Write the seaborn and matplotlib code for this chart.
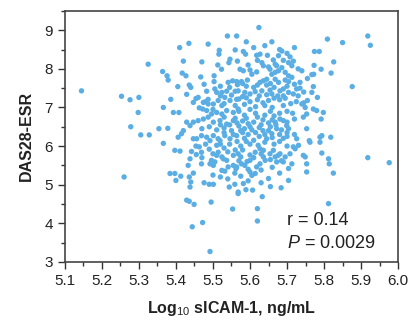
import matplotlib
matplotlib.use('Agg')
import matplotlib.pyplot as plt
import seaborn as sns
import pandas as pd
from matplotlib.ticker import MultipleLocator

# values (log10 sICAM-1 vs DAS28-ESR)
log_sicam = [
    5.145, 5.26, 5.253, 5.276, 5.30, 5.298, 5.278, 5.305, 5.328, 5.325,
    5.366, 5.354, 5.378, 5.366, 5.386, 5.393, 5.408, 5.364, 5.376, 5.379,
    5.41, 5.435, 5.487, 5.539, 5.564, 5.517, 5.516, 5.56, 5.42, 5.47,
    5.513, 5.523, 5.546, 5.543, 5.566, 5.417, 5.427, 5.467, 5.503, 5.503,
    5.405, 5.436, 5.44, 5.476, 5.541, 5.553, 5.564, 5.566, 5.483, 5.505,
    5.51, 5.524, 5.537, 5.56, 5.429, 5.454, 5.463, 5.472, 5.48, 5.487,
    5.447, 5.46, 5.474, 5.487, 5.501, 5.514, 5.524, 5.532, 5.546, 5.564,
    5.483, 5.496, 5.51, 5.524, 5.537, 5.555, 5.568,
    5.415, 5.42, 5.429, 5.438, 5.447,
    5.447, 5.456, 5.469, 5.483, 5.492, 5.501, 5.514, 5.532, 5.546, 5.564,
    5.46, 5.474, 5.487, 5.501, 5.519, 5.537, 5.555,
    5.47, 5.49, 5.51, 5.53, 5.55, 5.57,
    5.454, 5.463, 5.469, 5.406,
    5.397, 5.411, 5.384, 5.397, 5.40, 5.413, 5.433, 5.438, 5.442, 5.447,
    5.436, 5.44, 5.438, 5.429, 5.436, 5.449, 5.444, 5.472, 5.492, 5.495,
    5.476, 5.49, 5.501, 5.469, 5.544, 5.559, 5.553, 5.568,
    5.496, 5.505, 5.492, 5.501, 5.524, 5.532, 5.541, 5.555, 5.562, 5.528,
    5.514, 5.51, 5.519,
    5.51, 5.524, 5.537, 5.555, 5.568,
    5.48, 5.49, 5.47, 5.455, 5.50, 5.53, 5.545, 5.56, 5.575, 5.54,
    5.918, 5.976, 5.825, 5.814, 5.812, 5.794, 5.812, 5.753, 5.704, 5.684,
    5.65, 5.62, 5.62, 5.633, 5.607, 5.589, 5.582, 5.568, 5.595, 5.60,
    5.605, 5.614, 5.559, 5.704, 5.713, 5.69, 5.672, 5.668, 5.753, 5.749,
    5.744, 5.722, 5.731, 5.762, 5.76, 5.789, 5.794, 5.681, 5.663, 5.654,
    5.676, 5.636, 5.641, 5.627, 5.618, 5.60, 5.586, 5.577, 5.564,
    5.744, 5.753, 5.753, 5.771, 5.78, 5.749, 5.74, 5.789, 5.726, 5.717,
    5.708, 5.695,
    5.704, 5.699, 5.681, 5.69, 5.668, 5.672, 5.659, 5.65, 5.645,
    5.622, 5.627, 5.614, 5.636,
    5.60, 5.575, 5.592, 5.58, 5.60,
    5.57, 5.59, 5.60, 5.62, 5.635, 5.65, 5.665, 5.68, 5.695, 5.71,
    5.725, 5.745, 5.755,
    5.57, 5.585, 5.60, 5.615, 5.62, 5.64, 5.655, 5.665, 5.68, 5.70, 5.715,
    5.58, 5.595, 5.61, 5.63, 5.65, 5.66,
    5.575, 5.585, 5.595, 5.605, 5.615, 5.625, 5.61, 5.59, 5.635, 5.68,
    5.69, 5.70,
    5.624, 5.659, 5.809, 5.85, 5.918, 5.925, 5.774, 5.787, 5.826, 5.876,
    5.792, 5.819, 5.773, 5.772, 5.767, 5.755, 5.771, 5.767, 5.782, 5.798,
    5.792, 5.818,
    5.68, 5.686, 5.708, 5.704, 5.713, 5.717,
    5.582, 5.588, 5.618, 5.627, 5.647, 5.677, 5.632, 5.636, 5.663, 5.668,
    5.672, 5.573, 5.582, 5.60, 5.605, 5.618, 5.654, 5.659, 5.668, 5.677,
    5.686, 5.695, 5.704, 5.713, 5.577, 5.593, 5.627, 5.636, 5.645, 5.668,
    5.677, 5.695, 5.704, 5.568, 5.586, 5.60, 5.614, 5.632, 5.654, 5.659,
    5.681, 5.69, 5.704, 5.717, 5.726,
    5.59, 5.61, 5.645, 5.665, 5.70, 5.72, 5.735,
    5.74, 5.735, 5.745, 5.73,
    5.52, 5.545, 5.58, 5.62, 5.655, 5.69,
    5.52, 5.55, 5.58, 5.625, 5.645, 5.675,
    5.53, 5.56, 5.585, 5.615, 5.64, 5.66, 5.69,
    5.50, 5.53, 5.56, 5.59, 5.635, 5.67, 5.70, 5.72,
    5.52, 5.545, 5.565, 5.60, 5.625, 5.655, 5.685,
    5.53, 5.555, 5.58, 5.64, 5.66, 5.70, 5.72,
    5.52, 5.565, 5.585, 5.64, 5.665, 5.68, 5.70,
    5.57, 5.61, 5.63, 5.655, 5.685, 5.595, 5.63, 5.66, 5.68,
    5.52, 5.54, 5.575, 5.50, 5.63, 5.655,
    5.595, 5.62, 5.65, 5.69, 5.73, 5.61, 5.64, 5.59, 5.70, 5.72,
]

das28_esr = [
    7.43, 5.20, 7.29, 7.20, 7.26, 6.87, 6.50, 6.29, 6.29, 8.12,
    6.07, 6.45, 6.46, 7.00, 7.21, 6.87, 6.87, 7.93, 7.82, 7.71,
    8.55, 8.66, 8.64, 8.85, 8.85, 8.48, 8.38, 8.49, 8.20, 8.18,
    8.10, 7.99, 8.25, 8.16, 8.20, 7.89, 7.82, 7.79, 7.82, 7.67,
    7.54, 7.58, 7.52, 7.60, 7.65, 7.69, 7.67, 7.59, 7.42, 7.48,
    7.39, 7.39, 7.42, 7.42, 7.34, 7.23, 6.99, 6.96, 7.15, 7.09,
    7.13, 7.26, 7.13, 7.21, 7.09, 7.18, 7.05, 7.26, 7.18, 7.21,
    6.92, 6.83, 6.87, 6.83, 6.92, 6.87, 6.96,
    6.32, 6.40, 6.62, 6.53, 6.62,
    6.19, 6.19, 6.27, 6.23, 6.14, 6.27, 6.19, 6.27, 6.19, 6.27,
    6.66, 6.70, 6.75, 6.62, 6.66, 6.57, 6.66,
    6.45, 6.50, 6.42, 6.47, 6.40, 6.52,
    6.00, 5.98, 5.84, 6.23,
    5.89, 5.87, 5.29, 5.29, 5.11, 5.22, 5.50, 5.67, 5.86, 5.30,
    5.20, 5.07, 4.94, 4.60, 4.57, 4.49, 3.91, 4.02, 3.27, 4.55,
    5.05, 5.01, 5.01, 5.54, 4.94, 5.01, 4.37, 4.77,
    5.63, 5.59, 5.54, 5.50, 5.37, 5.35, 5.46, 5.50, 5.41, 5.67,
    5.84, 6.02, 6.14,
    5.76, 5.72, 5.63, 5.76, 5.80,
    6.05, 5.92, 5.70, 5.78, 5.80, 5.95, 6.05, 5.90, 6.00, 5.85,
    5.70, 5.57, 5.30, 5.54, 5.67, 5.82, 4.51, 5.33, 5.11, 4.92,
    5.16, 4.38, 4.06, 4.69, 4.86, 4.87, 5.03, 4.81, 5.10, 5.33,
    5.24, 5.29, 5.30, 5.42, 5.54, 5.59, 5.59, 5.72, 5.54, 5.72,
    5.76, 5.93, 6.02, 6.10, 6.14, 6.23, 6.27, 5.80, 5.89, 5.80,
    5.76, 5.72, 5.63, 5.54, 5.46, 5.63, 5.50, 5.54, 5.46,
    6.75, 6.83, 6.45, 6.96, 6.92, 7.00, 7.09, 6.10, 6.19, 5.98,
    5.80, 5.72,
    6.45, 6.53, 6.70, 6.66, 6.62, 6.45, 6.32, 6.40, 6.19,
    6.02, 5.93, 5.84, 5.89,
    5.77, 5.72, 5.60, 5.90, 6.05,
    7.22, 7.25, 7.15, 7.20, 7.12, 7.18, 7.24, 7.20, 7.24, 7.10,
    7.15, 7.12, 7.18,
    6.90, 6.80, 6.95, 6.85, 6.75, 6.80, 6.90, 6.78, 6.85, 6.90, 6.85,
    6.65, 6.58, 6.62, 6.55, 6.60, 6.68,
    6.40, 6.45, 6.30, 6.42, 6.35, 6.25, 6.15, 6.12, 6.40, 6.30,
    6.20, 6.35,
    9.07, 8.70, 8.77, 8.68, 8.85, 8.61, 8.45, 8.45, 8.18, 7.54,
    7.99, 7.89, 8.09, 7.86, 7.85, 7.75, 7.54, 7.39, 7.26, 6.87,
    6.70, 6.23,
    8.50, 8.46, 8.31, 8.16, 8.08, 8.20,
    8.45, 8.38, 8.35, 8.38, 8.35, 8.34, 8.16, 8.08, 8.23, 8.12,
    8.08, 7.99, 7.95, 7.97, 7.86, 7.92, 7.99, 7.86, 7.91, 7.95,
    8.03, 7.91, 7.82, 7.78, 7.67, 7.71, 7.65, 7.69, 7.73, 7.73,
    7.65, 7.71, 7.67, 7.43, 7.39, 7.35, 7.41, 7.43, 7.45, 7.35,
    7.43, 7.30, 7.39, 7.35, 7.48,
    7.55, 7.52, 7.58, 7.52, 7.55, 7.60, 7.50,
    7.95, 7.65, 7.40, 7.30,
    7.55, 7.52, 7.62, 7.58, 7.62, 7.48,
    7.30, 7.32, 7.28, 7.30, 7.33, 7.30,
    7.10, 7.05, 7.08, 7.02, 7.05, 7.00, 7.05,
    6.95, 6.75, 6.72, 6.72, 6.68, 6.55, 6.62, 6.70,
    6.55, 6.55, 6.60, 6.50, 6.48, 6.50, 6.42,
    6.35, 6.30, 6.35, 6.30, 6.22, 6.25, 6.30,
    6.05, 6.12, 6.20, 6.10, 6.05, 6.12, 6.00,
    5.62, 5.70, 5.80, 5.65, 5.62, 5.40, 5.38, 5.45, 5.30,
    5.20, 5.15, 5.22, 5.25, 5.05, 4.95,
    8.10, 8.22, 8.05, 8.22, 8.00, 8.55, 8.60, 8.70, 8.40, 8.55,
]

x_ticks = [5.1, 5.2, 5.3, 5.4, 5.5, 5.6, 5.7, 5.8, 5.9, 6.0]
y_ticks = [3, 4, 5, 6, 7, 8, 9]
r_text = 'r = 0.14'
p_text = '$\\it{P}$ = 0.0029'

df = pd.DataFrame({'sicam': log_sicam, 'das': das28_esr})

sns.set_style('white')
plt.rcParams['font.family'] = ['Liberation Sans', 'DejaVu Sans']
plt.rcParams['mathtext.fontset'] = 'custom'
plt.rcParams['mathtext.rm'] = 'Liberation Sans'
plt.rcParams['mathtext.it'] = 'Liberation Sans:italic'
plt.rcParams['mathtext.bf'] = 'Liberation Sans:bold'

fig = plt.figure(figsize=(4.13, 3.21), dpi=100)
ax = fig.add_axes([0.157, 0.184, 0.807, 0.782])

sns.scatterplot(x='sicam', y='das', data=df, ax=ax, color='#5aaee3',
                s=15, edgecolor='none', linewidth=0)

ax.set_xlim(5.1, 6.0)
ax.set_ylim(3, 9.5)
ax.set_xticks(x_ticks)
ax.set_yticks(y_ticks)
ax.set_xticklabels([f'{t:.1f}' for t in x_ticks])
ax.xaxis.set_minor_locator(MultipleLocator(0.05))
ax.yaxis.set_minor_locator(MultipleLocator(0.5))
ax.tick_params(which='both', direction='out', color='#333333', width=1,
               labelsize=11, labelcolor='#222222', top=False, right=False,
               left=True, bottom=True)
ax.tick_params(which='major', length=5)
ax.tick_params(which='minor', length=3)
for sp in ax.spines.values():
    sp.set_color('#444444')
    sp.set_linewidth(1.2)

ax.set_xlabel('Log$_{10}$ sICAM-1, ng/mL', fontsize=11.5, fontweight='bold',
              color='#222222', labelpad=8)
ax.set_ylabel('DAS28-ESR', fontsize=11.5, fontweight='bold',
              color='#222222', labelpad=8)

ax.text(5.70, 4.08, r_text, fontsize=13, va='center', ha='left', color='#222222')
ax.text(5.70, 3.49, p_text, fontsize=13, va='center', ha='left', color='#222222')

plt.savefig('out.png', dpi=100)
